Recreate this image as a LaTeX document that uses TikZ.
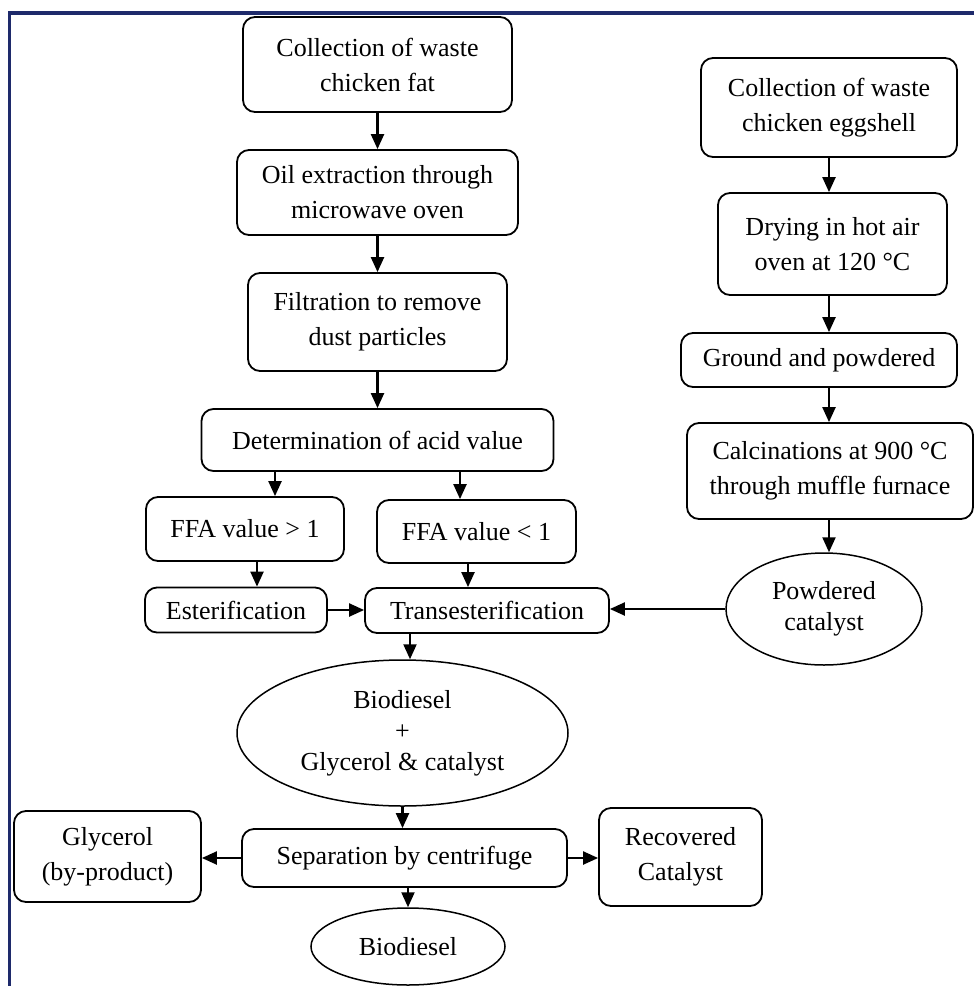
\documentclass[tikz,border=0pt]{standalone}
\usepackage{fontspec}
\setmainfont{Liberation Serif}
\usetikzlibrary{arrows.meta,shapes.geometric}
\definecolor{framenavy}{HTML}{1E2A6B}
\tikzset{
  stage/.style={
    rectangle,
    rounded corners=12pt,
    draw=black,
    line width=1.8pt,
    fill=white,
    align=center,
    inner sep=0pt,
    font=\fontsize{26}{35}\selectfont
  },
  product/.style={
    ellipse,
    draw=black,
    line width=1.5pt,
    fill=white,
    align=center,
    inner sep=0pt,
    font=\fontsize{26}{31}\selectfont
  },
  link/.style={line width=2.2pt, -{Triangle[length=15pt,width=13pt]}},
  edge/.style={draw=framenavy, line width=3.5pt}
}

\begin{document}
\begin{tikzpicture}[x=1pt,y=-1pt]
\useasboundingbox (0,0) rectangle (974,986);

% --- Frame ---
\draw[edge] (9.5,986) -- (9.5,13) -- (974,13);

% --- Chicken fat line ---
\node[stage, minimum width=269pt, minimum height=95pt] (fat) at (377.5,64.5) {Collection of waste\\chicken fat};
\node[stage, minimum width=281pt, minimum height=85pt] (oil) at (377.5,192.5) {Oil extraction through\\microwave oven};
\node[stage, minimum width=259pt, minimum height=98pt] (filt) at (377.5,322) {Filtration to remove\\dust particles};
\node[stage, minimum width=352pt, minimum height=62pt] (acid) at (377.5,440) {Determination of acid value};
\draw[link] (fat) -- (oil);
\draw[link] (oil) -- (filt);
\draw[link] (filt) -- (acid);

% --- Acid value split ---
\node[stage, minimum width=198pt, minimum height=64pt] (high) at (245,529) {FFA value > 1};
\node[stage, minimum width=199pt, minimum height=63pt] (low) at (476.5,531.5) {FFA value < 1};
\node[stage, minimum width=182pt, minimum height=45pt] (ester) at (236,610) {Esterification};
\node[stage, minimum width=244pt, minimum height=45pt] (trans) at (487,610.5) {Transesterification};
\coordinate (hi) at ([xshift=30pt]high.north);
\coordinate (lo) at ([xshift=-16.5pt]low.north);
\coordinate (hiout) at ([xshift=12pt]high.south);
\coordinate (loout) at ([xshift=-8.5pt]low.south);
\draw[link] (hi |- acid.south) -- (hi);
\draw[link] (lo |- acid.south) -- (lo);
\draw[link] (hiout) -- (hiout |- ester.north);
\draw[link] (loout) -- (loout |- trans.north);
\draw[link] (ester.east) -- (ester.east -| trans.west);

% --- Eggshell line ---
\node[stage, minimum width=256pt, minimum height=99pt] (egg) at (829,107.5) {Collection of waste\\chicken eggshell};
\node[stage, minimum width=229pt, minimum height=102pt] (dry) at (832.5,244) {Drying in hot air\\oven at 120 °C};
\node[stage, minimum width=276pt, minimum height=54pt] (grind) at (819,360) {Ground and powdered};
\node[stage, minimum width=286pt, minimum height=96pt] (calc) at (830,471) {Calcinations at 900 °C\\through muffle furnace};
\node[product, minimum width=196pt, minimum height=112pt] (cat) at (824,609) {Powdered\\catalyst};
\draw[link] (egg.south) -- (egg.south |- dry.north);
\draw[link] (egg.south |- dry.south) -- (egg.south |- grind.north);
\draw[link] (egg.south |- grind.south) -- (egg.south |- calc.north);
\draw[link] (egg.south |- calc.south) -- (egg.south |- cat.north);
\draw[link] (cat.west) -- (cat.west -| trans.east);

% --- Products ---
\node[product, minimum width=331pt, minimum height=146pt] (mix) at (402.5,733) {Biodiesel\\+\\Glycerol \& catalyst};
\node[stage, minimum width=325pt, minimum height=58pt] (sep) at (404.5,858) {Separation by centrifuge};
\node[stage, minimum width=187pt, minimum height=91pt] (gly) at (107.5,856.5) {Glycerol\\(by-product)};
\node[stage, minimum width=163pt, minimum height=98pt] (rec) at (680.5,857) {Recovered\\Catalyst};
\node[product, minimum width=194pt, minimum height=77pt] (bio) at (408,946.5) {Biodiesel};
\draw[link] ([xshift=7.5pt]mix.north |- trans.south) -- ([xshift=7.5pt]mix.north);
\draw[link] (mix.south) -- (mix.south |- sep.north);
\draw[link] (sep.west) -- (sep.west -| gly.east);
\draw[link] (sep.east) -- (sep.east -| rec.west);
\draw[link] (bio.north |- sep.south) -- (bio.north);

\end{tikzpicture}
\end{document}
